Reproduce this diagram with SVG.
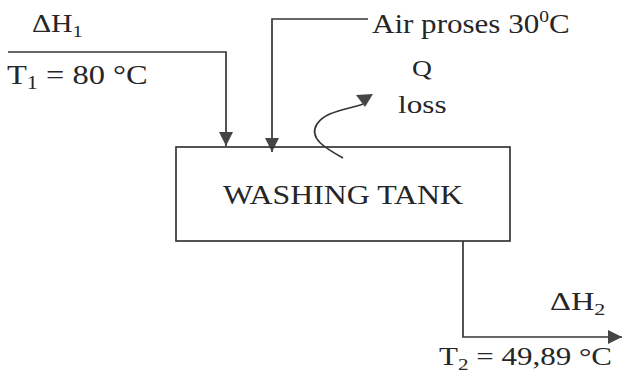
<svg xmlns="http://www.w3.org/2000/svg" width="622" height="379" viewBox="0 0 622 379">
<style>
text{font-family:'Liberation Serif','Times New Roman',serif;fill:#262626}
.ln{fill:none;stroke:#363636;stroke-width:1.7}
.ah{fill:#454545}
</style>
<defs>
<marker id="arr" viewBox="0 0 14 14" refX="14" refY="7" markerWidth="14" markerHeight="14" markerUnits="userSpaceOnUse" orient="auto">
<path d="M0,0 L14,7 L0,14 Z" class="ah"/>
</marker>
</defs>
<rect width="622" height="379" fill="#ffffff"/>
<g id="connectors">
<path class="ln" d="M8,52 H226 V146" marker-end="url(#arr)"/>
<path class="ln" d="M368,19 H272 V152" marker-end="url(#arr)"/>
<path class="ln" d="M463,241 V337 H622" marker-end="url(#arr)"/>
<path class="ln" d="M343,158 C325,148 308,138 317,124 C326,111 346,110 363,104"/>
<polygon class="ah" points="356,95 373,94 365,107"/>
</g>
<g id="washing-tank">
<rect x="176" y="147" width="334" height="94" fill="none" stroke="#363636" stroke-width="1.7"/>
<text font-family="Liberation Serif, serif" font-size="27" transform="translate(223,204) scale(1.18,1)">WASHING TANK</text>
</g>
<g id="input-1-label">
<text font-family="Liberation Serif, serif" font-size="25" transform="translate(32,32) scale(1.19,1)">ΔH<tspan font-size="17" dy="5">1</tspan></text>
<text font-family="Liberation Serif, serif" font-size="28" transform="translate(7,84) scale(1.16,1)">T<tspan font-size="19" dy="5">1</tspan><tspan dy="-5"> = 80 °C</tspan></text>
</g>
<g id="input-2-label">
<text font-family="Liberation Serif, serif" font-size="27" transform="translate(372,33) scale(1.15,1)">Air proses 30<tspan font-size="17" dy="-11">0</tspan><tspan dy="11">C</tspan></text>
</g>
<g id="q-loss-label">
<text font-family="Liberation Serif, serif" font-size="24" transform="translate(412,76) scale(1.15,1)">Q</text>
<text font-family="Liberation Serif, serif" font-size="26" transform="translate(398,113) scale(1.2,1)">loss</text>
</g>
<g id="output-label">
<text font-family="Liberation Serif, serif" font-size="25" transform="translate(550,310) scale(1.3,1)">ΔH<tspan font-size="17" dy="5">2</tspan></text>
<text font-family="Liberation Serif, serif" font-size="25" transform="translate(439,365) scale(1.24,1)">T<tspan font-size="17" dy="5">2</tspan><tspan dy="-5"> = 49,89 °C</tspan></text>
</g>
</svg>
